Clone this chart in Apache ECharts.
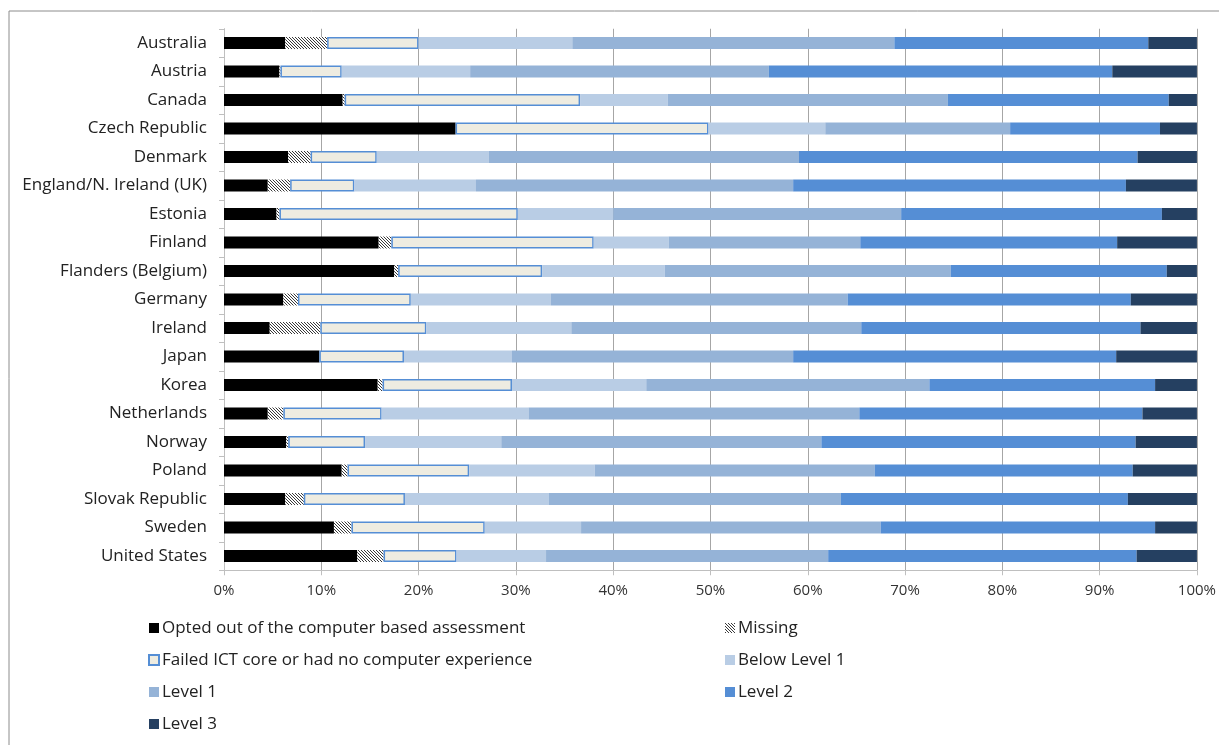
<!DOCTYPE html>
<html>
<head>
<meta charset="utf-8">
<script src="https://cdn.jsdelivr.net/npm/echarts@6/dist/echarts.min.js"></script>
<style>
html,body{margin:0;padding:0;background:#fff;}
#chart{width:1219px;height:745px;}
</style>
</head>
<body>
<div id="chart"></div>
<script>
const categories = ["Australia","Austria","Canada","Czech Republic","Denmark","England/N. Ireland (UK)","Estonia","Finland","Flanders (Belgium)","Germany","Ireland","Japan","Korea","Netherlands","Norway","Poland","Slovak Republic","Sweden","United States"];
const seriesNames = ["Opted out of the computer based assessment","Missing","Failed ICT core or had no computer experience","Below Level 1","Level 1","Level 2","Level 3"];
const optedOut   = [6.3, 5.7, 12.2, 23.8, 6.6, 4.5, 5.4, 15.9, 17.5, 6.1, 4.7, 9.8, 15.8, 4.5, 6.4, 12.1, 6.3, 11.3, 13.7];
const missing    = [4.3, 0.1, 0.2, 0.0, 2.3, 2.3, 0.3, 1.3, 0.4, 1.5, 5.2, 0.0, 0.5, 1.6, 0.2, 0.6, 1.9, 1.8, 2.7];
const failedICT  = [9.4, 6.3, 24.2, 26.0, 6.8, 6.6, 24.5, 20.8, 14.8, 11.6, 10.9, 8.7, 13.3, 10.1, 7.9, 12.5, 10.4, 13.7, 7.5];
const belowLevel1= [15.8, 13.2, 9.0, 12.0, 11.5, 12.5, 9.8, 7.7, 12.6, 14.4, 14.9, 11.1, 13.8, 15.1, 14.0, 12.9, 14.8, 9.9, 9.2];
const level1     = [33.1, 30.7, 28.8, 19.0, 31.9, 32.6, 29.6, 19.7, 29.4, 30.5, 29.8, 28.9, 29.1, 34.0, 32.9, 28.8, 30.0, 30.8, 29.0];
const level2     = [26.1, 35.3, 22.7, 15.4, 34.8, 34.2, 26.8, 26.4, 22.2, 29.1, 28.7, 33.2, 23.2, 29.1, 32.3, 26.5, 29.5, 28.2, 31.7];
const level3     = [5.0, 8.7, 2.9, 3.8, 6.1, 7.3, 3.6, 8.2, 3.1, 6.8, 5.8, 8.3, 4.3, 5.6, 6.3, 6.6, 7.1, 4.3, 6.2];
const xTicks = [0,10,20,30,40,50,60,70,80,90,100];

// hatch pattern for "Missing"
const hc = document.createElement('canvas');
hc.width = 3; hc.height = 3;
const hx = hc.getContext('2d');
hx.fillStyle = '#ffffff'; hx.fillRect(0,0,3,3);
hx.fillStyle = '#3a3a3a';
for (let i=0;i<3;i++){ hx.fillRect(i,i,1,1); }
const hatch = {image: hc, repeat: 'repeat'};

const FONT = 'Open Sans';
const data = [optedOut, missing, failedICT, belowLevel1, level1, level2, level3];
const styles = [
  {color:'#000000'},
  {color: hatch},
  {color:'#EEECE1', borderColor:'#558ED5', borderWidth:1.5},
  {color:'#B9CDE5'},
  {color:'#95B3D7'},
  {color:'#558ED5'},
  {color:'#254061'}
];
const series = seriesNames.map((n,i)=>({
  name:n, type:'bar', stack:'total', data:data[i], barWidth:12,
  itemStyle:styles[i], emphasis:{disabled:true}
}));

const legendCommon = {
  orient:'vertical', itemWidth:10, itemHeight:10, itemGap:12,
  selectedMode:false,
  textStyle:{fontFamily:FONT, fontSize:17, color:'#222', lineHeight:20, padding:[0,0,0,-2]},
  icon:'rect'
};

const chart = echarts.init(document.getElementById('chart'));
chart.setOption({
  animation:false,
  backgroundColor:'#fff',
  graphic:[{type:'rect', shape:{x:9, y:11, width:1400, height:1000}, style:{fill:'none', stroke:'#8c8c8c', lineWidth:1}}],
  legend:[
    Object.assign({left:143, top:613, data:[seriesNames[0], seriesNames[2], seriesNames[4], seriesNames[6]]}, legendCommon),
    Object.assign({left:720, top:613, data:[seriesNames[1], seriesNames[3], seriesNames[5]]}, legendCommon)
  ],
  grid:{left:224, right:22, top:28.75, bottom:174.75, containLabel:false},
  xAxis:{
    type:'value', min:0, max:100, interval:10,
    axisLine:{show:true, lineStyle:{color:'#BFBFBF'}},
    axisTick:{show:true, length:5, lineStyle:{color:'#BFBFBF'}},
    splitLine:{show:true, lineStyle:{color:'#A6A6A6'}},
    axisLabel:{formatter:v=>xTicks.includes(v)?v+'%':'', fontFamily:FONT, fontSize:15, color:'#333', margin:13}
  },
  yAxis:{
    type:'category', data:categories, inverse:true,
    axisLine:{show:true, lineStyle:{color:'#BFBFBF'}},
    axisTick:{show:true, length:5, lineStyle:{color:'#BFBFBF'}},
    axisLabel:{fontFamily:FONT, fontSize:17, color:'#222', margin:17}
  },
  series:series
});
</script>
</body>
</html>
